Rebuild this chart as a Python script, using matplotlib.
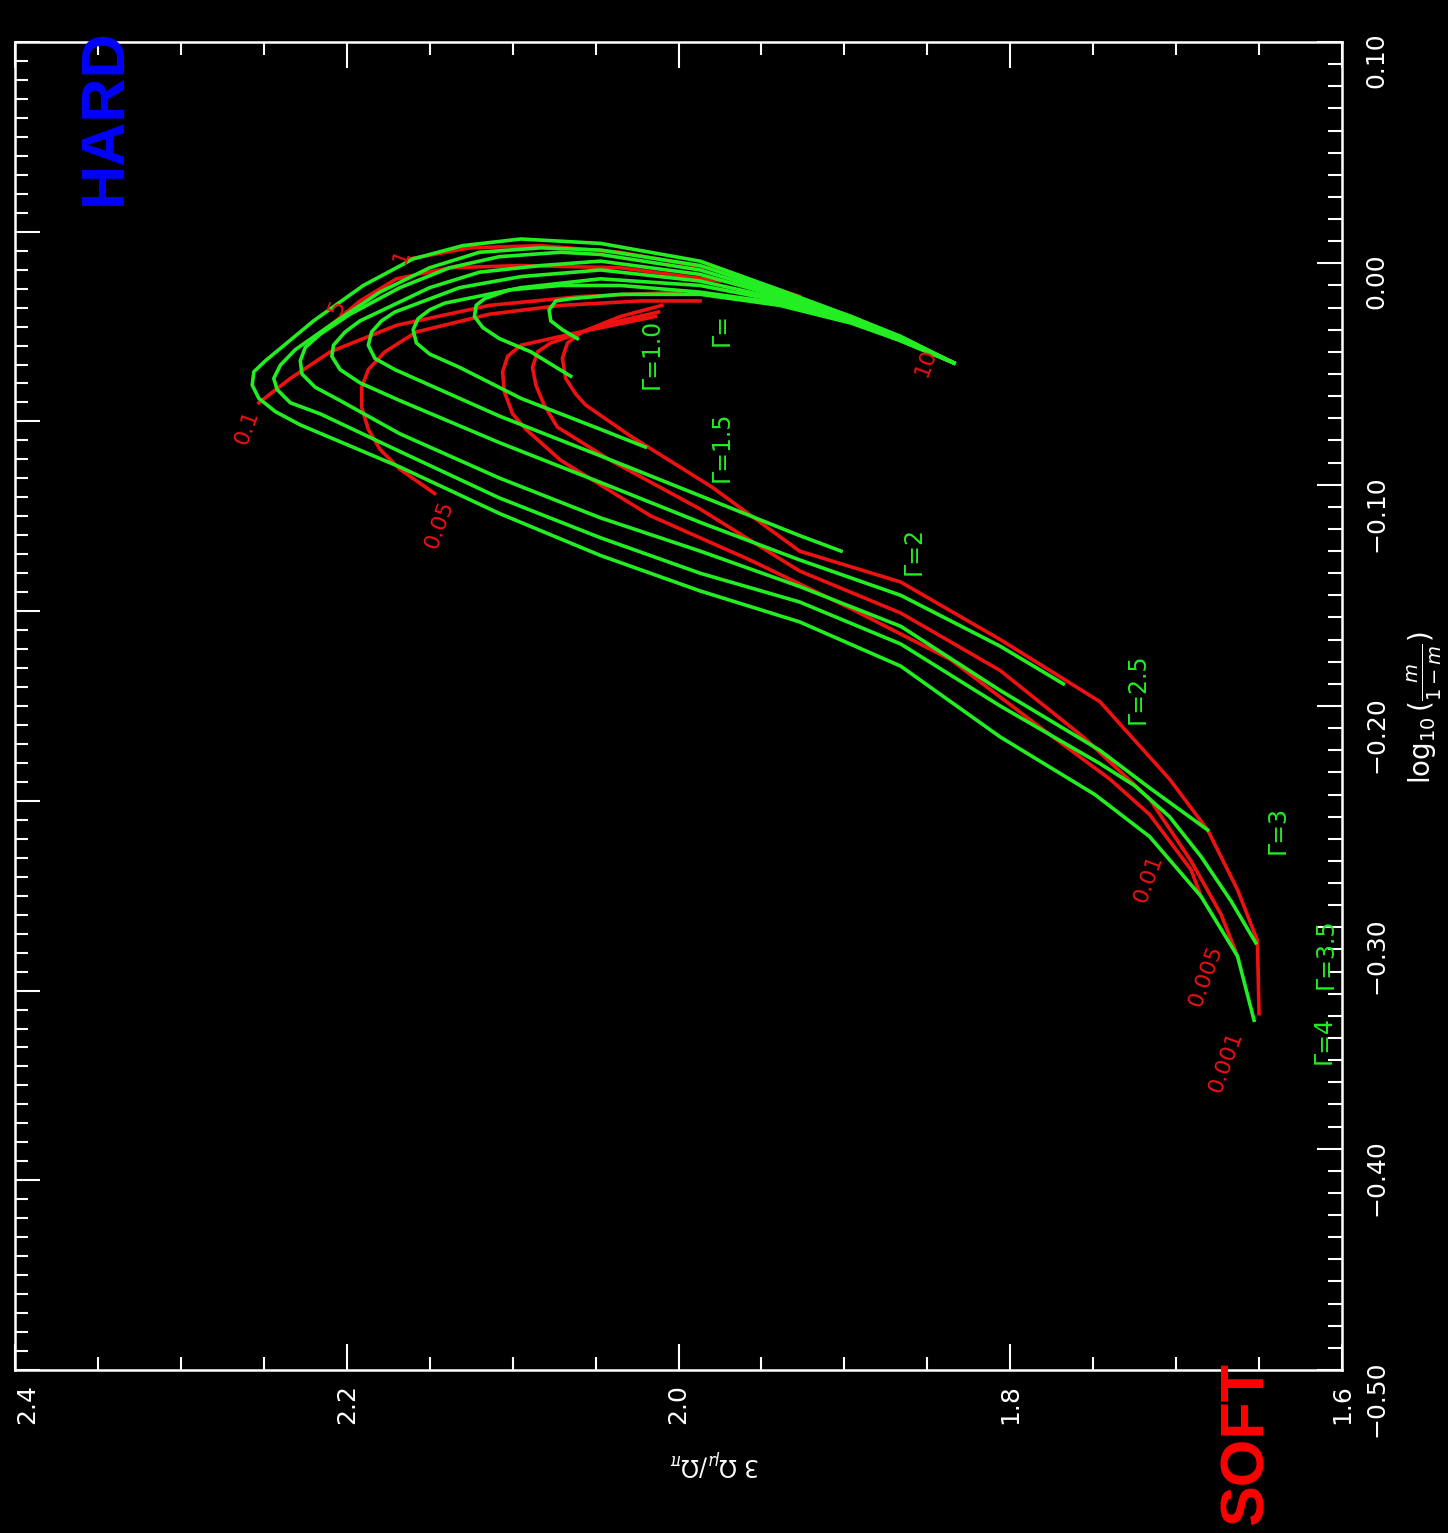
import matplotlib
matplotlib.use('Agg')
import matplotlib.pyplot as plt
from matplotlib.ticker import MultipleLocator, FuncFormatter

# the figure is drawn turned on its side:
# horizontal = 3 Omega_mu/Omega_pi (reversed), vertical = log10(m/(1-m))

# green curves, constant Gamma (innermost hook first)
g1_om = [2.061, 2.070, 2.077, 2.078, 2.074, 2.065, 2.035, 1.987, 1.939, 1.896, 1.866, 1.834]
g1_lm = [-0.034, -0.030, -0.026, -0.021, -0.017, -0.016, -0.014, -0.014, -0.019, -0.027, -0.035, -0.045]
g2_om = [2.065, 2.089, 2.108, 2.118, 2.123, 2.122, 2.117, 2.102, 2.071, 2.035, 1.987, 1.939, 1.896, 1.866, 1.834]
g2_lm = [-0.051, -0.040, -0.034, -0.029, -0.024, -0.019, -0.016, -0.012, -0.010, -0.010, -0.013, -0.018, -0.026, -0.035, -0.045]
g3_om = [2.020, 2.047, 2.095, 2.132, 2.150, 2.158, 2.160, 2.157, 2.150, 2.141, 2.095, 2.047, 1.987, 1.939, 1.896, 1.866, 1.834]
g3_lm = [-0.083, -0.075, -0.061, -0.047, -0.041, -0.036, -0.030, -0.025, -0.021, -0.018, -0.011, -0.007, -0.010, -0.017, -0.026, -0.034, -0.045]
g4_om = [1.902, 1.927, 1.987, 2.047, 2.108, 2.150, 2.171, 2.183, 2.187, 2.185, 2.179, 2.171, 2.132, 2.095, 2.047, 1.987, 1.939, 1.896, 1.866, 1.834]
g4_lm = [-0.130, -0.123, -0.105, -0.087, -0.069, -0.055, -0.048, -0.043, -0.037, -0.031, -0.026, -0.022, -0.011, -0.006, -0.003, -0.008, -0.016, -0.026, -0.034, -0.045]
g5_om = [1.768, 1.806, 1.866, 1.927, 1.987, 2.047, 2.108, 2.168, 2.192, 2.204, 2.209, 2.208, 2.201, 2.192, 2.150, 2.120, 2.083, 2.047, 1.987, 1.939, 1.896, 1.866, 1.834]
g5_lm = [-0.190, -0.173, -0.150, -0.134, -0.117, -0.099, -0.081, -0.062, -0.054, -0.048, -0.042, -0.037, -0.031, -0.026, -0.011, -0.004, -0.001, 0.001, -0.005, -0.015, -0.025, -0.034, -0.045]
g6_om = [1.681, 1.716, 1.746, 1.806, 1.866, 1.927, 1.987, 2.047, 2.108, 2.168, 2.204, 2.219, 2.227, 2.228, 2.225, 2.216, 2.198, 2.168, 2.138, 2.108, 2.071, 2.047, 1.987, 1.939, 1.896, 1.866, 1.834]
g6_lm = [-0.256, -0.237, -0.220, -0.193, -0.164, -0.146, -0.130, -0.115, -0.097, -0.077, -0.062, -0.056, -0.050, -0.044, -0.038, -0.032, -0.023, -0.011, -0.002, 0.003, 0.005, 0.004, -0.003, -0.014, -0.025, -0.034, -0.045]
g7_om = [1.652, 1.667, 1.685, 1.704, 1.725, 1.746, 1.806, 1.866, 1.927, 1.987, 2.047, 2.108, 2.168, 2.216, 2.234, 2.242, 2.244, 2.240, 2.231, 2.210, 2.180, 2.150, 2.120, 2.083, 2.047, 1.987, 1.939, 1.896, 1.866, 1.834]
g7_lm = [-0.307, -0.288, -0.268, -0.250, -0.236, -0.226, -0.200, -0.172, -0.153, -0.140, -0.124, -0.106, -0.085, -0.068, -0.063, -0.057, -0.052, -0.046, -0.039, -0.028, -0.013, -0.002, 0.005, 0.007, 0.006, -0.001, -0.013, -0.024, -0.034, -0.045]
g8_om = [1.653, 1.663, 1.685, 1.716, 1.749, 1.806, 1.866, 1.927, 1.987, 2.047, 2.108, 2.168, 2.228, 2.243, 2.253, 2.257, 2.256, 2.249, 2.220, 2.190, 2.160, 2.130, 2.095, 2.047, 1.987, 1.939, 1.896, 1.866, 1.834]
g8_lm = [-0.342, -0.313, -0.286, -0.259, -0.240, -0.214, -0.182, -0.162, -0.148, -0.132, -0.113, -0.092, -0.073, -0.067, -0.061, -0.055, -0.049, -0.044, -0.026, -0.010, 0.002, 0.008, 0.011, 0.009, 0.001, -0.012, -0.024, -0.033, -0.045]

# red curves, constant m-parameter
r001_om = [2.010, 2.035, 2.058, 2.067, 2.070, 2.068, 2.062, 2.056, 2.029, 1.980, 1.927, 1.866, 1.806, 1.746, 1.704, 1.681, 1.663, 1.651, 1.650]
r001_lm = [-0.019, -0.024, -0.031, -0.036, -0.043, -0.052, -0.059, -0.064, -0.078, -0.101, -0.130, -0.144, -0.170, -0.198, -0.233, -0.256, -0.283, -0.306, -0.339]
r005_om = [2.012, 2.047, 2.077, 2.085, 2.088, 2.086, 2.081, 2.073, 2.041, 1.987, 1.927, 1.866, 1.806, 1.756, 1.716, 1.691, 1.673, 1.663]
r005_lm = [-0.022, -0.028, -0.036, -0.040, -0.047, -0.055, -0.064, -0.074, -0.089, -0.111, -0.139, -0.158, -0.184, -0.214, -0.242, -0.270, -0.294, -0.313]
r01_om = [2.014, 2.059, 2.095, 2.103, 2.106, 2.105, 2.100, 2.092, 2.071, 2.017, 1.957, 1.896, 1.836, 1.776, 1.740, 1.716, 1.691, 1.685]
r01_lm = [-0.024, -0.031, -0.037, -0.042, -0.049, -0.058, -0.068, -0.075, -0.089, -0.114, -0.134, -0.156, -0.179, -0.213, -0.233, -0.249, -0.274, -0.286]
r05_om = [2.147, 2.168, 2.180, 2.187, 2.191, 2.191, 2.187, 2.177, 2.158, 2.114, 2.071, 2.023, 1.987]
r05_lm = [-0.104, -0.093, -0.084, -0.075, -0.065, -0.056, -0.048, -0.040, -0.031, -0.023, -0.019, -0.017, -0.017]
r1_om = [2.253, 2.234, 2.210, 2.170, 2.114, 2.059, 1.999]
r1_lm = [-0.063, -0.052, -0.040, -0.028, -0.019, -0.015, -0.013]
r5_om = [2.213, 2.192, 2.170, 2.138, 2.095, 2.035, 1.975]
r5_lm = [-0.030, -0.017, -0.007, -0.002, -0.001, -0.002, -0.008]
r10_om = [2.162, 2.126, 2.083, 2.035, 1.975, 1.927]
r10_lm = [0.002, 0.007, 0.008, 0.005, -0.003, -0.015]
r100_om = [1.848, 1.834]
r100_lm = [-0.040, -0.045]

gamma_labels = ['Γ=1.0', 'Γ=', 'Γ=1.5', 'Γ=2', 'Γ=2.5', 'Γ=3', 'Γ=3.5', 'Γ=4']
gamma_lab_om = [2.016, 1.974, 1.974, 1.858, 1.723, 1.639, 1.610, 1.611]
gamma_lab_lm = [-0.041, -0.030, -0.083, -0.130, -0.192, -0.256, -0.312, -0.351]

m_labels = ['0.1', '0.05', '0.01', '0.005', '0.001', '10', '5', '1']
m_lab_om = [2.260, 2.144, 1.717, 1.682, 1.670, 1.851, 2.206, 2.167]
m_lab_lm = [-0.074, -0.118, -0.278, -0.322, -0.361, -0.045, -0.020, 0.003]

W, H = 1448, 1533
fig = plt.figure(figsize=(W / 100, H / 100), dpi=100, facecolor='black')
ax = fig.add_axes([15 / W, 163 / H, 1327 / W, 1328 / H])
ax.set_facecolor('black')

# left edge has its own scale (7 divisions); make it first, twinx moves ticks around
ax2 = ax.twinx()
ax2.set_ylim(0, 7)
ax2.yaxis.set_major_locator(MultipleLocator(1))
ax2.yaxis.set_minor_locator(MultipleLocator(0.1))
ax2.yaxis.set_ticks_position('left')
ax2.tick_params(axis='y', which='both', direction='in', left=True, right=False,
                labelleft=False, labelright=False, colors='white', width=1.5)
ax2.tick_params(axis='y', which='major', length=18)
ax2.tick_params(axis='y', which='minor', length=9)
for s in ax2.spines.values():
    s.set_visible(False)

ax.set_xlim(2.4, 1.6)
ax.set_ylim(-0.5, 0.1)

GREEN = '#22ee22'
RED = '#ee1111'

reds = [(r001_om, r001_lm), (r005_om, r005_lm), (r01_om, r01_lm), (r05_om, r05_lm),
        (r1_om, r1_lm), (r5_om, r5_lm), (r10_om, r10_lm), (r100_om, r100_lm)]
for om, lm in reds:
    ax.plot(om, lm, color=RED, lw=2.6, zorder=2, solid_joinstyle='round')

greens = [(g1_om, g1_lm), (g2_om, g2_lm), (g3_om, g3_lm), (g4_om, g4_lm),
          (g5_om, g5_lm), (g6_om, g6_lm), (g7_om, g7_lm), (g8_om, g8_lm)]
for om, lm in greens:
    ax.plot(om, lm, color=GREEN, lw=2.6, zorder=3, solid_joinstyle='round')

for t, o, l in zip(gamma_labels, gamma_lab_om, gamma_lab_lm):
    ax.text(o, l, t, color=GREEN, fontsize=17, rotation=90, ha='center', va='center',
            clip_on=False, zorder=4)
for t, o, l in zip(m_labels, m_lab_om, m_lab_lm):
    ax.text(o, l, t, color=RED, fontsize=16, rotation=70, ha='center', va='center',
            clip_on=False, zorder=4)

# frame and ticks
for s in ax.spines.values():
    s.set_color('white')
    s.set_linewidth(1.8)

ax.xaxis.set_major_locator(MultipleLocator(0.2))
ax.xaxis.set_minor_locator(MultipleLocator(0.05))
ax.yaxis.set_major_locator(MultipleLocator(0.1))
ax.yaxis.set_minor_locator(MultipleLocator(0.01))
ax.xaxis.set_major_formatter(FuncFormatter(lambda v, p: '%.1f' % v))
ax.yaxis.set_major_formatter(FuncFormatter(
    lambda v, p: ('%.2f' % v).replace('-0.00', '0.00').replace('-', '\u2212')))

ax.yaxis.set_ticks_position('right')
ax.yaxis.set_label_position('right')
ax.tick_params(axis='x', which='both', direction='in', top=True, bottom=True,
               labeltop=False, labelbottom=True,
               colors='white', width=1.5, labelrotation=90, labelsize=18, pad=10)
ax.tick_params(axis='x', which='major', length=19)
ax.tick_params(axis='x', which='minor', length=9.5)
ax.tick_params(axis='y', which='both', direction='in', left=False, right=True,
               labelleft=False, labelright=True, colors='white', width=1.5,
               labelrotation=90, labelsize=18, pad=16)
ax.tick_params(axis='y', which='major', length=18)
ax.tick_params(axis='y', which='minor', length=10)

fig.canvas.draw()
# keep the leftmost bottom label inside the figure
for lab in ax.get_xticklabels():
    if lab.get_text() == '2.4':
        lab.set_horizontalalignment('left')

fig.text(715 / W, 1 - 1462 / H, r'3 $\Omega_{\mu}/\Omega_{\pi}$', rotation=180,
         ha='center', va='center', color='white', fontsize=17)
fig.text(1425 / W, 1 - 708 / H, r'$\log_{10}(\frac{m}{1-m})$', rotation=90,
         ha='center', va='center', color='white', fontsize=20)

fig.text(105 / W, 1 - 205 / H, 'HARD', rotation=90, rotation_mode='anchor',
         ha='left', va='center', color='#0000ff', fontsize=44, fontweight='bold',
         family='Liberation Sans')
fig.text(1247 / W, 1 - 1525 / H, 'SOFT', rotation=90, rotation_mode='anchor',
         ha='left', va='center', color='#ff0000', fontsize=44, fontweight='bold',
         family='Liberation Sans')

fig.savefig('out.png', dpi=100, facecolor='black')
